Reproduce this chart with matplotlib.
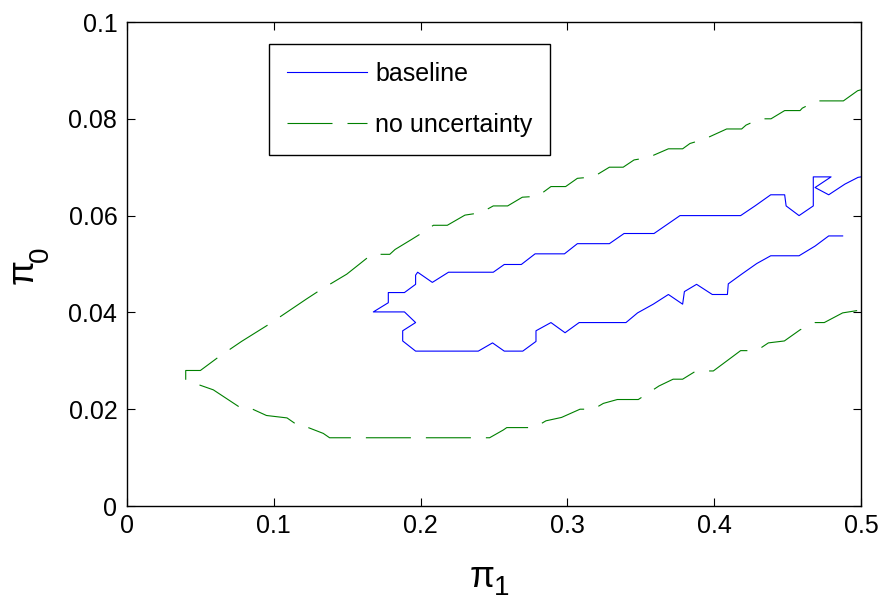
import matplotlib
matplotlib.use('Agg')
import matplotlib.pyplot as plt

plt.rcParams['font.family'] = ['Liberation Sans', 'DejaVu Sans']
plt.rcParams['lines.scale_dashes'] = False

# contour of the baseline case (upper and lower branch)
base_up_x = [0.1678, 0.178, 0.178, 0.189, 0.1966, 0.1966, 0.198, 0.208, 0.219, 0.2495,
             0.257, 0.2686, 0.278, 0.298, 0.3068, 0.3286, 0.3386, 0.359, 0.3767, 0.418,
             0.4278, 0.4385, 0.448, 0.449, 0.4578, 0.4675, 0.4675, 0.4796, 0.4687, 0.478,
             0.489, 0.498, 0.5]
base_up_y = [0.0401, 0.042, 0.0441, 0.0441, 0.0458, 0.0477, 0.0483, 0.0462, 0.0483, 0.0483,
             0.0499, 0.0499, 0.0521, 0.0521, 0.0542, 0.0542, 0.0563, 0.0563, 0.060, 0.060,
             0.062, 0.0643, 0.0643, 0.062, 0.060, 0.062, 0.068, 0.068, 0.0658, 0.0643,
             0.0665, 0.0679, 0.068]
base_lo_x = [0.1678, 0.189, 0.1966, 0.1878, 0.1878, 0.1966, 0.2393, 0.249, 0.257, 0.2696,
             0.2786, 0.2786, 0.2888, 0.2984, 0.308, 0.3399, 0.3478, 0.3585, 0.3688, 0.3785,
             0.3797, 0.388, 0.3987, 0.409, 0.4096, 0.4187, 0.429, 0.4385, 0.4578, 0.4687,
             0.478, 0.4875]
base_lo_y = [0.0401, 0.0401, 0.0379, 0.0362, 0.0341, 0.032, 0.032, 0.0337, 0.032, 0.032,
             0.034, 0.0362, 0.0379, 0.0358, 0.0379, 0.0379, 0.0399, 0.0417, 0.0437, 0.0417,
             0.0443, 0.0458, 0.0437, 0.0437, 0.0459, 0.0479, 0.0501, 0.0517, 0.0517, 0.0537,
             0.0558, 0.0558]

# contour without uncertainty
nou_up_x = [0.04, 0.05, 0.062, 0.078, 0.097, 0.1224, 0.1315, 0.1497, 0.1576, 0.1667,
            0.179, 0.1826, 0.194, 0.203, 0.2087, 0.2182, 0.2302, 0.2411, 0.2495, 0.2593,
            0.2693, 0.2798, 0.2888, 0.2988, 0.3068, 0.3177, 0.3286, 0.338, 0.3454, 0.3551,
            0.3688, 0.3785, 0.3835, 0.3933, 0.4085, 0.4187, 0.4217, 0.4312, 0.4387, 0.448,
            0.4585, 0.46, 0.4697, 0.488, 0.4977, 0.5]
nou_up_y = [0.028, 0.028, 0.0307, 0.034, 0.0376, 0.0428, 0.0446, 0.0479, 0.0498, 0.052,
            0.052, 0.053, 0.0551, 0.0568, 0.058, 0.058, 0.0601, 0.0606, 0.062, 0.062,
            0.0638, 0.064, 0.066, 0.066, 0.0677, 0.068, 0.070, 0.070, 0.0715, 0.072,
            0.0738, 0.0738, 0.0749, 0.0758, 0.0779, 0.0779, 0.0787, 0.080, 0.080, 0.0817,
            0.0817, 0.0822, 0.0837, 0.0837, 0.0858, 0.086]
nou_lo_x = [0.04, 0.04, 0.0588, 0.0788, 0.0856, 0.095, 0.109, 0.1185, 0.1235, 0.1337,
            0.138, 0.247, 0.2563, 0.2587, 0.2775, 0.2854, 0.296, 0.3086, 0.3177, 0.3245,
            0.334, 0.3483, 0.3624, 0.372, 0.3785, 0.3876, 0.3994, 0.4096, 0.418, 0.429,
            0.4369, 0.4478, 0.4585, 0.4687, 0.475, 0.4875, 0.5]
nou_lo_y = [0.028, 0.026, 0.024, 0.020, 0.020, 0.0187, 0.0182, 0.0162, 0.0162, 0.015,
            0.0141, 0.0141, 0.0157, 0.0162, 0.0162, 0.0176, 0.0183, 0.020, 0.020, 0.0212,
            0.022, 0.022, 0.0248, 0.0262, 0.0262, 0.0279, 0.0279, 0.0302, 0.0321, 0.0321,
            0.0337, 0.0341, 0.0364, 0.0379, 0.0379, 0.0399, 0.0405]

xticks = [0, 0.1, 0.2, 0.3, 0.4, 0.5]
xtick_labels = ['0', '0.1', '0.2', '0.3', '0.4', '0.5']
yticks = [0, 0.02, 0.04, 0.06, 0.08, 0.1]
ytick_labels = ['0', '0.02', '0.04', '0.06', '0.08', '0.1']

fig = plt.figure(figsize=(8.81, 6.02), dpi=100)
ax = fig.add_axes([127 / 881, 96 / 602, 734 / 881, 484 / 602])

blue = (0, 0, 1)
green = (0, 0.5, 0)
dash = (0, (32.4, 10.8))

# join the two branches so each contour is one line (dash pattern runs through)
bx = base_up_x[::-1] + base_lo_x[1:]
by = base_up_y[::-1] + base_lo_y[1:]
gx = nou_up_x[::-1] + nou_lo_x[1:]
gy = nou_up_y[::-1] + nou_lo_y[1:]
ax.plot(bx, by, color=blue, lw=0.8, label='baseline')
ax.plot(gx, gy, color=green, lw=0.8, linestyle=dash, label='no uncertainty')

ax.set_xlim(0, 0.5)
ax.set_ylim(0, 0.1)
ax.set_xticks(xticks)
ax.set_xticklabels(xtick_labels)
ax.set_yticks(yticks)
ax.set_yticklabels(ytick_labels)
ax.tick_params(direction='in', length=5.5, width=0.8, top=True, right=True,
               labelsize=18, colors='black')
ax.tick_params(axis='x', pad=6)
ax.tick_params(axis='y', pad=7)
for s in ax.spines.values():
    s.set_linewidth(1.0)

leg = ax.legend(loc='upper left', bbox_to_anchor=(0.1935, 0.9545), borderaxespad=0,
                fontsize=18, handlelength=3.2, handletextpad=0.32, borderpad=0.72,
                labelspacing=1.07, fancybox=False, framealpha=1, edgecolor='black')
leg.get_frame().set_linewidth(1.0)

# axis labels built by hand: pi plus a large subscript, like the original
fig.text(482 / 881, 15 / 602, 'π', fontsize=26, ha='center', va='baseline')
fig.text(494 / 881, 7 / 602, '1', fontsize=20, ha='left', va='baseline')
fig.text(33 / 881, (602 - 272) / 602, 'π', fontsize=26, ha='center', va='baseline',
         rotation=90, rotation_mode='anchor')
fig.text(48 / 881, (602 - 262) / 602, '0', fontsize=20, ha='left', va='baseline',
         rotation=90, rotation_mode='anchor')

fig.savefig('out.png', dpi=100)
